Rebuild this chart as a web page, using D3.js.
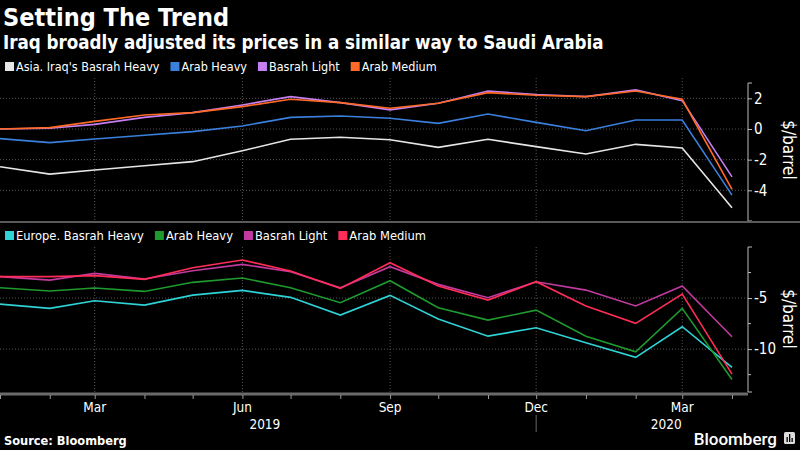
<!DOCTYPE html>
<html>
<head>
<meta charset="utf-8">
<script src="https://cdn.jsdelivr.net/npm/d3@7"></script>
<style>
  body { margin: 0; background: #000; }
  svg { display: block; background: #000; }
  text { fill: #fff; font-family: "DejaVu Sans Condensed", "DejaVu Sans", sans-serif; }
  .grid line { stroke: #555; stroke-dasharray: 1,2; }
</style>
</head>
<body>
<svg id="chart" width="800" height="450"></svg>
<script>
// monthly prices, Jan 2019 .. Apr 2020
const months = ["2019-01", "2019-02", "2019-03", "2019-04", "2019-05", "2019-06", "2019-07", "2019-08",
    "2019-09", "2019-10", "2019-11", "2019-12", "2020-01", "2020-02", "2020-03", "2020-04"];

// Asia
const asiaBasrahHeavy = [-2.46, -2.94, -2.67, -2.4, -2.13, -1.42, -0.67, -0.54, -0.7, -1.2, -0.67, -1.15, -1.63, -1.0, -1.24, -5.14];
const asiaArabHeavy = [-0.63, -0.89, -0.65, -0.41, -0.17, 0.2, 0.76, 0.85, 0.7, 0.37, 0.98, 0.43, -0.11, 0.59, 0.59, -4.31];
const asiaBasrahLight = [0, 0.05, 0.3, 0.76, 1.07, 1.57, 2.11, 1.72, 1.25, 1.68, 2.48, 2.25, 2.11, 2.55, 1.85, -3.12];
const asiaArabMedium = [0, 0.09, 0.5, 0.91, 1.07, 1.46, 1.94, 1.72, 1.35, 1.68, 2.37, 2.2, 2.11, 2.48, 1.94, -3.94];

// Europe
const europeBasrahHeavy = [-5.59, -6.01, -5.26, -5.69, -4.71, -4.25, -4.93, -6.67, -4.74, -7.06, -8.73, -7.91, -9.38, -10.81, -7.81, -11.8];
const europeArabHeavy = [-3.99, -4.31, -4.02, -4.35, -3.46, -3.04, -3.99, -5.46, -3.3, -5.95, -7.16, -6.18, -8.73, -10.26, -6.01, -12.97];
const europeBasrahLight = [-2.9, -3.24, -2.58, -3.14, -2.32, -1.7, -2.42, -4.0, -1.93, -3.66, -4.97, -3.4, -4.22, -5.78, -3.82, -8.79];
const europeArabMedium = [-2.9, -2.9, -2.8, -3.17, -2.03, -1.27, -2.35, -4.05, -1.54, -3.82, -5.2, -3.4, -5.78, -7.48, -4.61, -12.45];

const topTicks = [2, 0, -2, -4];
const bottomTicks = [-5, -10];
const bottomMinorTicks = [-2.5, -7.5, -12.5];
const monthLabels = [["2019-03", "Mar"], ["2019-06", "Jun"], ["2019-09", "Sep"], ["2019-12", "Dec"], ["2020-03", "Mar"]];
const yearLabels = [["2019-06-15", "2019"], ["2020-02-20", "2020"]];

const parseMonth = d3.timeParse("%Y-%m");
const dates = months.map(parseMonth);

const panels = [
    {
        legend: [
            {name: "Asia. Iraq's Basrah Heavy", values: asiaBasrahHeavy, color: "#e6e6e6"},
            {name: "Arab Heavy", values: asiaArabHeavy, color: "#3a80dc"},
            {name: "Basrah Light", values: asiaBasrahLight, color: "#c57ff0"},
            {name: "Arab Medium", values: asiaArabMedium, color: "#ff6a26"}
        ],
        legendY: 67, legendSize: 12.5,
        domain: [-6, 3], range: [221, 83],
        gridTop: 78, gridBottom: 220,
        ticks: topTicks, minor: [],
        unitY: 150
    },
    {
        legend: [
            {name: "Europe. Basrah Heavy", values: europeBasrahHeavy, color: "#2fd3d6"},
            {name: "Arab Heavy", values: europeArabHeavy, color: "#1f9a2e"},
            {name: "Basrah Light", values: europeBasrahLight, color: "#c23a9f"},
            {name: "Arab Medium", values: europeArabMedium, color: "#ff2d57"}
        ],
        legendY: 236, legendSize: 12.8,
        domain: [-14.2, 0], range: [392, 247],
        gridTop: 247, gridBottom: 392,
        ticks: bottomTicks, minor: bottomMinorTicks,
        unitY: 319
    }
];

const svg = d3.select("#chart");
const axisX = 748;

const x = d3.scaleTime()
    .domain([dates[0], dates[dates.length - 1]])
    .range([0, 732]);

// titles
svg.append("text").attr("x", 3).attr("y", 26)
    .style("font-size", "25px").style("font-weight", "bold")
    .text("Setting The Trend");
svg.append("text").attr("x", 3).attr("y", 49)
    .style("font-size", "18.6px").style("font-weight", "bold")
    .text("Iraq broadly adjusted its prices in a similar way to Saudi Arabia");

function drawPanel(p) {
    const y = d3.scaleLinear().domain(p.domain).range(p.range);
    const g = svg.append("g");

    // legend, laid out left to right
    let lx = 5;
    p.legend.forEach(s => {
        g.append("rect").attr("x", lx).attr("y", p.legendY - 5)
            .attr("width", 9).attr("height", 9).attr("fill", s.color);
        const t = g.append("text").attr("x", lx + 11).attr("y", p.legendY + 4)
            .style("font-size", p.legendSize + "px").text(s.name);
        lx += 11 + t.node().getComputedTextLength() + 11;
    });

    // vertical gridlines at labelled months
    g.append("g").attr("class", "grid")
        .selectAll("line").data(monthLabels).join("line")
        .attr("x1", d => x(parseMonth(d[0]))).attr("x2", d => x(parseMonth(d[0])))
        .attr("y1", p.gridTop).attr("y2", p.gridBottom);

    // horizontal gridlines
    g.append("g").attr("class", "grid")
        .selectAll("line").data(p.ticks).join("line")
        .attr("x1", 0).attr("x2", axisX)
        .attr("y1", d => y(d)).attr("y2", d => y(d));

    // right axis
    const axis = d3.axisRight(y).tickValues(p.ticks).tickSize(4).tickPadding(2)
        .tickFormat(d => String(d));
    const ag = g.append("g").attr("transform", `translate(${axisX},0)`).call(axis);
    ag.select(".domain").attr("stroke", "#bbb").attr("d", `M4,${p.range[0]}H0V${p.range[1]}H4`);
    ag.selectAll(".tick line").attr("stroke", "#bbb");
    ag.selectAll(".tick text").attr("fill", "#fff")
        .style("font-size", "15px").style("font-family", "'DejaVu Sans Condensed', sans-serif");
    ag.selectAll(".minor").data(p.minor).join("line").attr("class", "minor")
        .attr("x1", 0).attr("x2", 3).attr("y1", d => y(d)).attr("y2", d => y(d))
        .attr("stroke", "#bbb");

    g.append("text")
        .attr("transform", `translate(783,${p.unitY}) rotate(90)`)
        .attr("text-anchor", "middle")
        .style("font-size", "17px")
        .text("$/barrel");

    const line = d3.line()
        .x((d, i) => x(dates[i]))
        .y(d => y(d));

    g.selectAll("path.series").data(p.legend).join("path")
        .attr("class", "series")
        .attr("fill", "none")
        .attr("stroke", s => s.color)
        .attr("stroke-width", 1.6)
        .attr("d", s => line(s.values));
}

panels.forEach(drawPanel);

// panel separator
svg.append("line").attr("x1", 0).attr("x2", 800).attr("y1", 222).attr("y2", 222)
    .attr("stroke", "#5a5a5a").attr("stroke-width", 2);

// x axis
svg.append("line").attr("x1", 0).attr("x2", axisX).attr("y1", 394).attr("y2", 394)
    .attr("stroke", "#6b6b6b").attr("stroke-width", 3);
const xAxis = d3.axisBottom(x).ticks(d3.timeMonth.every(1)).tickSize(4).tickFormat("");
const xg = svg.append("g").attr("transform", "translate(0,395)").call(xAxis);
xg.select(".domain").remove();
xg.selectAll(".tick line").attr("stroke", "#999");

svg.append("g").selectAll("text").data(monthLabels).join("text")
    .attr("x", d => x(parseMonth(d[0]))).attr("y", 412)
    .attr("text-anchor", "middle").style("font-size", "13.5px")
    .text(d => d[1]);

const parseDay = d3.timeParse("%Y-%m-%d");
svg.append("g").selectAll("text").data(yearLabels).join("text")
    .attr("x", d => x(parseDay(d[0]))).attr("y", 429)
    .attr("text-anchor", "middle").style("font-size", "13.5px")
    .text(d => d[1]);

// year divider
const divX = x(parseMonth("2019-12"));
svg.append("line").attr("x1", divX).attr("x2", divX).attr("y1", 415).attr("y2", 432)
    .attr("stroke", "#666");

// footer
svg.append("text").attr("x", 4).attr("y", 445)
    .style("font-size", "12.7px").style("font-weight", "bold")
    .text("Source: Bloomberg");
svg.append("text").attr("x", 777).attr("y", 445).attr("text-anchor", "end")
    .style("font-size", "17px").style("font-family", "Roboto, sans-serif").style("font-weight", 500)
    .text("Bloomberg");
const logo = svg.append("g").attr("transform", "translate(784,432)");
logo.append("rect").attr("width", 11).attr("height", 12).attr("rx", 1.5).attr("fill", "#ddd");
logo.selectAll("rect.bar").data([5, 8, 4]).join("rect").attr("class", "bar")
    .attr("x", (d, i) => 2.5 + i * 2.5).attr("y", d => 10 - d)
    .attr("width", 1.3).attr("height", d => d).attr("fill", "#000");
</script>
</body>
</html>
